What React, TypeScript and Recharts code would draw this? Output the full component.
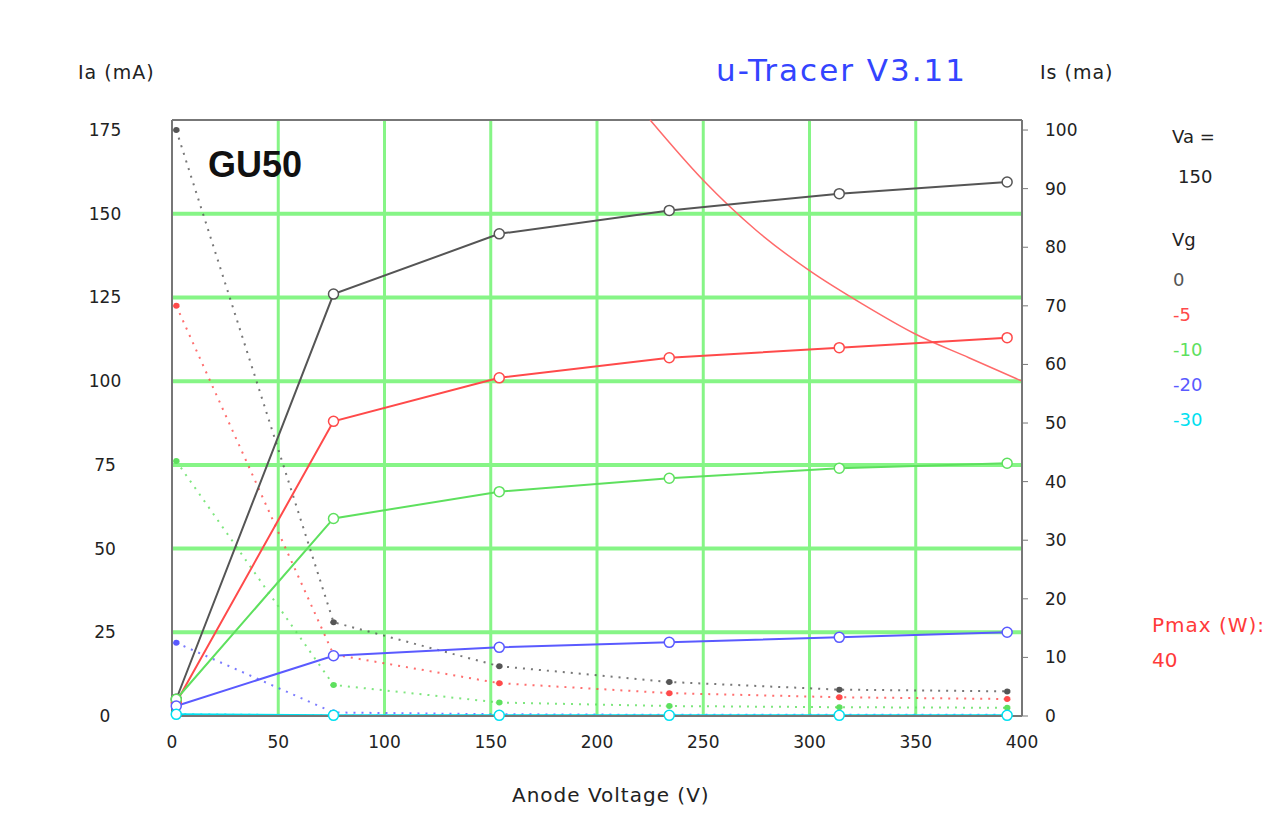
import { LineChart, Line, XAxis, YAxis, ReferenceLine } from "recharts"

// anode voltage steps of the sweep (V)
const anodeV = [2, 76, 154, 234, 314, 393]

// anode current Ia (mA), left axis
const ia0 = [5, 126, 144, 151, 156, 159.5]
const ia5 = [4, 88, 101, 107, 110, 113]
const ia10 = [5, 59, 67, 71, 74, 75.5]
const ia20 = [3, 18, 20.5, 22, 23.5, 25]
const ia30 = [0.5, 0.2, 0.2, 0.2, 0.2, 0.2]

// screen current Is (mA), right axis
const is0 = [100, 16, 8.5, 5.8, 4.5, 4.2]
const is5 = [70, 10.5, 5.6, 3.9, 3.2, 2.9]
const is10 = [43.5, 5.3, 2.3, 1.7, 1.5, 1.4]
const is20 = [12.5, 0.6, 0.3, 0.2, 0.2, 0.2]
const is30 = [0.3, 0.1, 0.1, 0.1, 0.1, 0.1]

// Pmax = 40 W limit curve
const pmaxV = [225, 250, 275, 300, 325, 350, 375, 400]
const pmaxIa = [178, 160, 145, 133, 123, 114, 107, 100]

const vaTicks = [0, 50, 100, 150, 200, 250, 300, 350, 400]
const iaTicks = [0, 25, 50, 75, 100, 125, 150, 175]
const isTicks = [0, 10, 20, 30, 40, 50, 60, 70, 80, 90, 100]
const gridIa = [25, 50, 75, 100, 125, 150]
const gridVa = [50, 100, 150, 200, 250, 300, 350]

const IA_MAX = 178
const IS_MAX = (IA_MAX * 100) / 175

const toPts = (xs: number[], ys: number[]) => xs.map((va, i) => ({ va, v: ys[i] }))

const series = [
  { vg: "0", color: "#555555", ia: ia0, is: is0 },
  { vg: "-5", color: "#ff4a4a", ia: ia5, is: is5 },
  { vg: "-10", color: "#5ee05e", ia: ia10, is: is10 },
  { vg: "-20", color: "#5a5aff", ia: ia20, is: is20 },
  { vg: "-30", color: "#00e0f0", ia: ia30, is: is30 },
]

const font = "'DejaVu Sans', Verdana, sans-serif"
const grid = "#86f586"

const LeftTick = (props: any) => {
  const { x, y, payload } = props
  return (
    <text x={x - 67} y={y} textAnchor="middle" dominantBaseline="central" fontSize={17} fill="#222" fontFamily={font}>
      {payload.value}
    </text>
  )
}

function Txt({ x, y, size = 18, color = "#222", children, style }: any) {
  return (
    <div
      style={{
        position: "absolute",
        left: x,
        top: y - size / 2,
        fontSize: size,
        lineHeight: 1,
        color,
        fontFamily: font,
        whiteSpace: "nowrap",
        ...style,
      }}
    >
      {children}
    </div>
  )
}

export default function App() {
  return (
    <div style={{ position: "absolute", left: 0, top: 0, width: 1280, height: 837, background: "#fff" }}>
      <LineChart width={1280} height={837} margin={{ top: 120, left: 102, right: 178, bottom: 61 }}>
        <XAxis
          dataKey="va"
          type="number"
          domain={[0, 400]}
          ticks={vaTicks}
          tickLine={false}
          tickSize={0}
          tickMargin={20}
          height={60}
          axisLine={{ stroke: "#777", strokeWidth: 2 }}
          tick={{ fontSize: 17, fill: "#222", fontFamily: font }}
          allowDuplicatedCategory={false}
        />
        <YAxis
          yAxisId="ia"
          type="number"
          domain={[0, IA_MAX]}
          ticks={iaTicks}
          width={70}
          tickLine={false}
          tickSize={0}
          tickMargin={0}
          axisLine={{ stroke: "#777", strokeWidth: 2 }}
          tick={<LeftTick />}
        />
        <YAxis
          yAxisId="is"
          orientation="right"
          type="number"
          domain={[0, IS_MAX]}
          ticks={isTicks}
          width={80}
          tickSize={6}
          tickMargin={17}
          tickLine={{ stroke: "#777" }}
          axisLine={{ stroke: "#777", strokeWidth: 2 }}
          tick={{ fontSize: 17, fill: "#222", fontFamily: font, textAnchor: "start" }}
        />

        {gridIa.map((v) => (
          <ReferenceLine key={"h" + v} yAxisId="ia" y={v} stroke={grid} strokeWidth={4} />
        ))}
        {gridVa.map((v) => (
          <ReferenceLine key={"v" + v} yAxisId="ia" x={v} stroke={grid} strokeWidth={3} />
        ))}
        <ReferenceLine yAxisId="ia" y={IA_MAX} stroke="#777" strokeWidth={2} />

        <Line
          yAxisId="ia"
          data={toPts(pmaxV, pmaxIa)}
          dataKey="v"
          type="monotone"
          stroke="#ff6a6a"
          strokeWidth={1.5}
          dot={false}
          isAnimationActive={false}
        />

        {series.map((s) => (
          <Line
            key={"is" + s.vg}
            yAxisId="is"
            data={toPts(anodeV, s.is)}
            dataKey="v"
            type="linear"
            stroke={s.color}
            strokeOpacity={0.8}
            strokeWidth={2}
            strokeDasharray="2 6"
            dot={{ r: 3, fill: s.color, stroke: s.color, strokeWidth: 1 }}
            isAnimationActive={false}
          />
        ))}

        {series.map((s) => (
          <Line
            key={"ia" + s.vg}
            yAxisId="ia"
            data={toPts(anodeV, s.ia)}
            dataKey="v"
            type="linear"
            stroke={s.color}
            strokeWidth={2}
            dot={{ r: 5, fill: "#fff", stroke: s.color, strokeWidth: 1.5 }}
            isAnimationActive={false}
          />
        ))}
      </LineChart>

      <Txt x={78} y={72} size={19} style={{ letterSpacing: 1 }}>Ia (mA)</Txt>
      <Txt x={1040} y={72} size={19} style={{ letterSpacing: 1 }}>Is (ma)</Txt>
      <Txt x={716} y={70} size={31} color="#3344ff" style={{ letterSpacing: 2 }}>u-Tracer V3.11</Txt>
      <Txt x={208} y={165} size={36} color="#111" style={{ fontWeight: "bold", fontFamily: "'Liberation Sans', Arial, sans-serif" }}>GU50</Txt>

      <Txt x={1172} y={137} size={18}>Va =</Txt>
      <Txt x={1178} y={177} size={18}>150</Txt>
      <Txt x={1172} y={240} size={18}>Vg</Txt>
      {series.map((s, i) => (
        <Txt key={s.vg} x={1173} y={280 + i * 35} size={18} color={s.color}>
          {s.vg}
        </Txt>
      ))}
      <Txt x={1152} y={625} size={20} color="#ff3a3a" style={{ letterSpacing: 1 }}>Pmax (W):</Txt>
      <Txt x={1152} y={660} size={20} color="#ff3a3a">40</Txt>

      <Txt x={512} y={795} size={20} style={{ letterSpacing: 1 }}>Anode Voltage (V)</Txt>
    </div>
  )
}
